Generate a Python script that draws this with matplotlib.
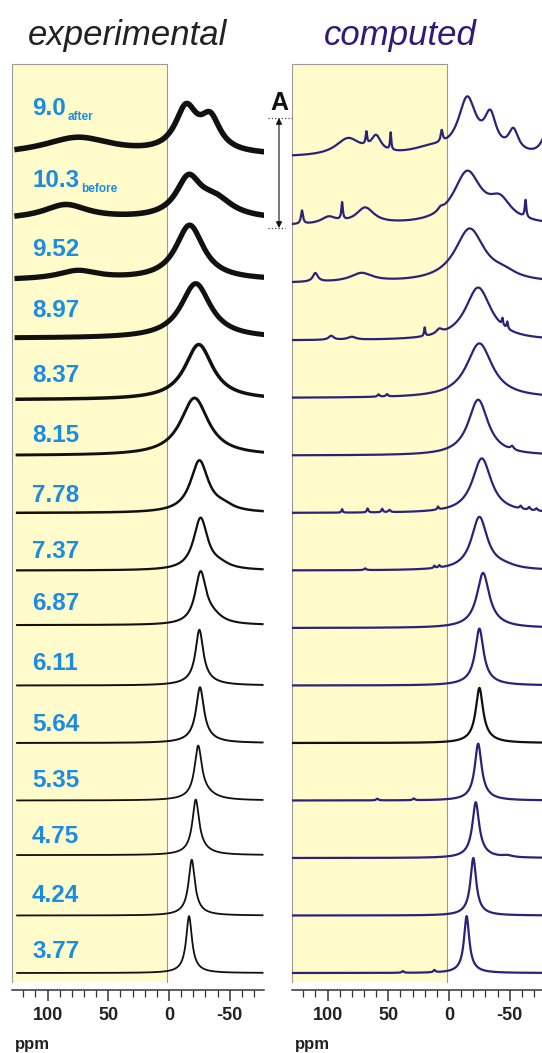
"""Stacked spectra, experimental vs computed"""

import numpy as np
import matplotlib.pyplot as plt
from matplotlib.lines import Line2D

plt.rcParams['font.family'] = ['Liberation Sans', 'DejaVu Sans']

# traces from the bottom of the stack to the top
labels = ["3.77", "4.24", "4.75", "5.35", "5.64", "6.11", "6.87", "7.37",
          "7.78", "8.15", "8.37", "8.97", "9.52", "10.3", "9.0"]
label_subs = [""] * 13 + ["before", "after"]

# peaks as (position ppm, full width ppm, height), height in stack units
exp_peaks = [
    [(-16.5, 5.5, 0.9), (-17, 16, 0.09)],
    [(-18.7, 6, 0.87), (-19, 18, 0.1)],
    [(-22, 6.5, 0.86), (-24, 20, 0.11)],
    [(-24, 7, 0.84), (-28, 22, 0.13)],
    [(-25.5, 7.5, 0.86), (-26, 22, 0.11)],
    [(-25, 7.5, 0.87), (-26, 25, 0.1)],
    [(-26, 11, 0.88), (-36, 20, 0.12)],
    [(-26, 14, 0.9), (-42, 20, 0.07)],
    [(-25, 18, 0.9), (-45, 20, 0.08)],
    [(-21, 28, 1.0)],
    [(-24.5, 28, 0.96)],
    [(-22, 30, 0.95)],
    [(-17, 28, 0.95), (75, 40, 0.15)],
    [(-16, 25, 0.66), (-38, 35, 0.3), (85, 45, 0.25)],
    [(-14, 22, 0.75), (-34, 20, 0.55), (75, 70, 0.3)],
]
exp_base = [0, 0, 0.05, 0, 0, 0, 0.05, 0, 0, 0, -0.03, 0.04, 0.05, 0.1, 0.03]

calc_peaks = [
    [(-14.5, 5, 0.9), (-15, 15, 0.09), (38, 2, 0.03), (12, 2, 0.04)],
    [(-20, 5.5, 0.9), (-20, 16, 0.1)],
    [(-22, 6.5, 0.87), (-23, 18, 0.1), (-48, 10, 0.03)],
    [(-24, 6.5, 0.89), (-25, 18, 0.1), (59, 2, 0.03), (29, 2, 0.03)],
    [(-25, 7, 0.86), (-26, 20, 0.1)],
    [(-25, 8, 0.89), (-25, 24, 0.1)],
    [(-28, 12, 0.88), (-30, 30, 0.08)],
    [(-25, 16, 0.92), (-45, 25, 0.05), (69, 2, 0.03), (12, 1.5, 0.04),
     (8, 1.5, 0.04)],
    [(-27, 19, 0.95), (88, 1.2, 0.06), (67, 1.5, 0.07), (55, 1.5, 0.06),
     (49, 2, 0.04), (9, 1.5, 0.05), (-59, 2, 0.05), (-66, 2, 0.05),
     (-72, 2, 0.04)],
    [(-24, 20, 0.97), (-52, 3, 0.06)],
    [(-25, 26, 0.95), (58, 2, 0.04), (51, 2, 0.04)],
    [(-24, 26, 0.92), (97, 5, 0.07), (80, 8, 0.05), (20, 1.2, 0.15),
     (8, 6, 0.08), (-44, 1.2, 0.12), (-48, 1.2, 0.12)],
    [(-17, 30, 0.93), (-45, 25, 0.1), (110, 5, 0.15), (72, 22, 0.15)],
    [(-15, 28, 0.9), (-42, 22, 0.35), (121, 2, 0.23), (99, 15, 0.12),
     (88, 1.5, 0.3), (69, 18, 0.28), (7, 5, 0.06), (-63, 1.5, 0.3)],
    [(-15, 18, 0.95), (-34, 12, 0.6), (-53, 10, 0.38), (-80, 10, 0.35),
     (83, 25, 0.3), (68, 1.5, 0.22), (60, 10, 0.28), (48, 1.2, 0.3),
     (6, 2, 0.2), (15, 40, 0.12)],
]

tick_vals = [100, 50, 0, -50]
tick_text = ["100", "50", "0", "-50"]

# layout, in pixels of the 542x1053 picture
W, H = 542, 1053
PX_PER_PPM = 1.215
STEP = 57.5          # px between stacked baselines
BASE_PX = 973        # baseline of the lowest trace
AX_BOTTOM_PX, AX_TOP_PX, YELLOW_BOTTOM_PX = 990, 64, 982
XMAX, XMIN = 129, -78
YELLOW = "#fffbcb"
BLUE = "#1b8ce3"
NAVY = "#2b2379"
label_gap = [15, 13.5, 15, 13.5, 12, 15.5, 18, 12.5, 11, 13.5, 16, 23.5, 27,
             38.5, 42]
exp_lw = [1.3, 1.3, 1.3, 1.3, 1.4, 1.4, 1.5, 1.6, 1.8, 2.1, 2.5, 3.6, 3.8,
          4.0, 4.0]
calc_colors = [NAVY] * 15
calc_colors[4] = "#111111"

offsets = np.arange(len(labels), dtype=float)
offsets[-1] += 0.19


def lineshape(ppm, peaks):
    """Sum of lorentzian lines"""
    y = np.zeros_like(ppm)
    for pos, fwhm, height in peaks:
        y += height / (1 + (2 * (ppm - pos) / fwhm) ** 2)
    return y


def make_axes(fig, zero_px):
    """Axes with 0 ppm at pixel zero_px, shaded positive region"""
    left = zero_px - XMAX * PX_PER_PPM
    width = (XMAX - XMIN) * PX_PER_PPM
    ax = fig.add_axes([left / W, (H - AX_BOTTOM_PX) / H, width / W,
                       (AX_BOTTOM_PX - AX_TOP_PX) / H])
    ax.patch.set_alpha(0)
    ax.set_xlim(XMAX, XMIN)
    y_lo = (BASE_PX - AX_BOTTOM_PX) / STEP
    y_hi = (BASE_PX - AX_TOP_PX) / STEP
    ax.set_ylim(y_lo, y_hi)
    for side in ["left", "right", "top"]:
        ax.spines[side].set_visible(False)
    ax.spines["bottom"].set_color("#333333")
    ax.spines["bottom"].set_linewidth(1.1)
    ax.set_yticks([])
    ax.set_xticks(tick_vals)
    ax.set_xticklabels(tick_text, fontweight="bold", fontsize=13,
                       color="#222222")
    ax.set_xticks(np.arange(120, -80, -10), minor=True)
    ax.tick_params(which="major", length=8, width=1.1, color="#333333", pad=4)
    ax.tick_params(which="minor", length=5, width=0.9, color="#333333")

    y0 = (BASE_PX - YELLOW_BOTTOM_PX) / STEP
    ax.fill_between([XMAX, 1.5], y0, y_hi, color=YELLOW, lw=0, zorder=0)
    ax.plot([XMAX, XMAX, 1.5, 1.5], [y0, y_hi, y_hi, y0], color="#9a9a9a",
            lw=0.8, clip_on=False, zorder=1)
    return ax


def plot():
    fig = plt.figure(figsize=(W / 100, H / 100), dpi=100)

    ax_exp = make_axes(fig, 169)
    ax_calc = make_axes(fig, 449)

    ppm_exp = np.linspace(125, -77, 4000)
    for k, peaks in enumerate(exp_peaks):
        y = offsets[k] + exp_base[k] + lineshape(ppm_exp, peaks)
        ax_exp.plot(ppm_exp, y, color="#111111", lw=exp_lw[k], zorder=3,
                    solid_joinstyle="round")

    ppm_calc = np.linspace(128.5, -78, 4000)
    for k, peaks in enumerate(calc_peaks):
        y = offsets[k] + lineshape(ppm_calc, peaks)
        ax_calc.plot(ppm_calc, y, color=calc_colors[k], lw=1.6, zorder=3)

    label_x = (169 - 32) / PX_PER_PPM
    for k, lab in enumerate(labels):
        t = ax_exp.text(label_x, offsets[k] + label_gap[k] / STEP, lab,
                        fontsize=17.5, fontweight="bold", color=BLUE,
                        ha="left", va="baseline", zorder=5)
        if label_subs[k]:
            ax_exp.annotate(label_subs[k], xy=(1, 0), xycoords=t,
                            xytext=(1.5, 0), textcoords="offset points",
                            fontsize=8.5, fontweight="bold", color=BLUE,
                            ha="left", va="baseline", zorder=5)

    fig.text(127.5 / W, 1 - 45 / H, "experimental", ha="center",
             va="baseline", style="italic", fontsize=25, color="#222222")
    fig.text(400 / W, 1 - 45 / H, "computed", ha="center",
             va="baseline", style="italic", fontsize=25, color="#2e1a78")

    for x_px in (15, 295):
        fig.text(x_px / W, 1 - 1045 / H, "ppm", ha="left", va="center",
                 fontweight="bold", fontsize=12, color="#222222")

    # spacing marker between the panels
    fig.text(270 / W, 1 - 110 / H, "A", ha="left", va="baseline",
             fontweight="bold", fontsize=18, color="#111111")
    fig.add_artist(Line2D([268 / W, 292 / W], [1 - 118 / H] * 2,
                          ls=":", lw=0.9, color="#444444"))
    fig.add_artist(Line2D([268 / W, 285 / W], [1 - 228 / H] * 2,
                          ls=":", lw=0.9, color="#444444"))
    fig.add_artist(plt.Annotation(
        "", xy=(279 / W, 1 - 118 / H), xytext=(279 / W, 1 - 228 / H),
        xycoords="figure fraction", textcoords="figure fraction",
        arrowprops=dict(arrowstyle="<|-|>", color="#111111", lw=0.8,
                        mutation_scale=9, shrinkA=0, shrinkB=0)))

    fig.savefig("out.png", dpi=100)


if __name__ == "__main__":
    plot()
